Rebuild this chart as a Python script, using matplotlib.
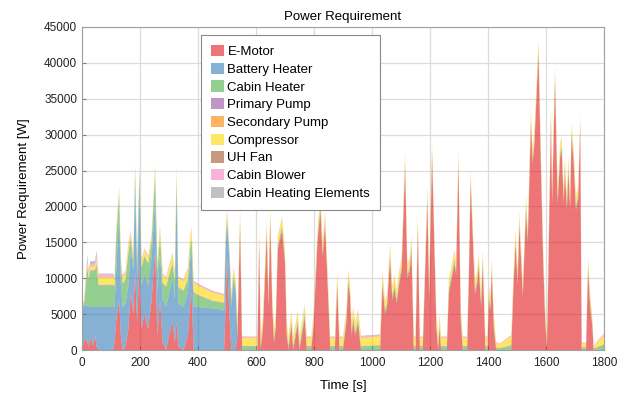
import matplotlib.pyplot as plt

# time axis [s] (breakpoints)
time = [
    0, 8, 18, 23, 28, 38, 45, 50, 57, 108,
    112, 118, 128, 134, 140, 150, 160, 168, 177, 183,
    190, 198, 205, 215, 228, 240, 252, 260, 269, 278,
    290, 300, 312, 320, 326, 332, 350, 365, 372, 378,
    385, 400, 450, 490, 495, 500, 508, 515, 522, 530,
    536, 545, 552,
    600, 605, 611, 616, 624, 637, 643, 649, 656, 662,
    668, 675, 690, 700, 706, 712, 722, 728, 744, 750,
    768, 775, 790, 798, 812, 822, 830, 838, 848, 856,
    872, 880, 888, 900, 912, 918, 924, 930, 935, 942,
    952, 962, 1028, 1036, 1045, 1052, 1062, 1070, 1078, 1085,
    1093, 1102, 1114, 1122, 1130, 1136, 1144, 1150, 1158, 1165,
    1175, 1191, 1197, 1207, 1214, 1222, 1228, 1233, 1238, 1258,
    1265, 1275, 1284, 1290, 1298, 1306, 1313, 1328, 1334, 1340,
    1347, 1355, 1362, 1368, 1376, 1382, 1391, 1398, 1403, 1408,
    1413, 1420, 1428, 1440, 1480, 1488, 1495, 1502, 1508, 1520,
    1531, 1537, 1548, 1554, 1560, 1574, 1582, 1590, 1597, 1603,
    1606, 1617, 1621, 1631, 1640, 1649, 1654, 1661, 1665, 1672,
    1677, 1683, 1688, 1695, 1703, 1711, 1718, 1723, 1738, 1745,
    1752, 1760, 1764, 1780, 1800]

e_motor = [
    0, 1500, 1200, 300, 1800, 600, 2000, 500, 0, 0,
    1000, 4000, 7000, 2000, 0, 500, 3000, 8000, 5000, 11000,
    4000, 12000, 3000, 5000, 3000, 7000, 14000, 2000, 7000, 1000,
    0, 2000, 4000, 1000, 4000, 500, 0, 2000, 6000, 8000,
    0, 0, 0, 0, 6000, 13000, 5000, 0, 0, 0,
    2000, 17500, 0,
    0, 0, 15000, 0, 3000, 16200, 6000, 18000, 6000, 1000,
    3000, 14000, 16700, 12000, 2000, 0, 3500, 0, 3500, 0,
    4500, 0, 0, 3000, 15000, 19500, 13000, 17500, 8000, 0,
    0, 9000, 0, 0, 4000, 9200, 7500, 2000, 4200, 2000,
    3700, 0, 0, 9000, 5000, 6000, 12800, 7000, 8500, 6500,
    9000, 11000, 25500, 10000, 11000, 14000, 0, 0, 17000, 0,
    0, 20800, 7000, 27000, 16000, 3000, 0, 3000, 0, 0,
    8000, 10000, 12000, 10500, 26000, 4000, 0, 0, 10000, 23200,
    16000, 7800, 9000, 11500, 6000, 12000, 0, 0, 7000, 5500,
    10900, 3000, 0, 0, 0, 9000, 14800, 9200, 17400, 7400,
    19500, 15000, 31500, 26000, 28700, 41300, 26000, 12500, 4000, 0,
    6000, 32000, 20400, 37600, 20400, 27000, 27800, 20400, 25000, 19500,
    25000, 19500, 29700, 26400, 19500, 21000, 31100, 0, 0, 11100,
    6000, 3200, 0, 0, 0]

battery_heater = [
    5500, 4700, 5000, 5800, 4200, 5400, 4000, 5500, 6000, 6000,
    5000, 7000, 12000, 7000, 6000, 6000, 6000, 6000, 6000, 12000,
    6000, 10500, 6000, 5500, 6000, 6000, 7000, 6000, 6500, 6000,
    6000, 5800, 6000, 6000, 18500, 6000, 6000, 6000, 6000, 6000,
    6000, 6000, 5800, 5600, 8000, 5000, 8000, 6000, 9500, 8000,
    0, 0, 0,
    0, 0, 0, 0, 0, 0, 0, 0, 0, 0,
    0, 0, 0, 0, 0, 0, 0, 0, 0, 0,
    0, 0, 0, 0, 0, 0, 0, 0, 0, 0,
    0, 0, 0, 0, 0, 0, 0, 0, 0, 0,
    0, 0, 0, 0, 0, 0, 0, 0, 0, 0,
    0, 0, 0, 0, 0, 0, 0, 0, 0, 0,
    0, 0, 0, 0, 0, 0, 0, 0, 0, 0,
    0, 0, 0, 0, 0, 0, 0, 0, 0, 0,
    0, 0, 0, 0, 0, 0, 0, 0, 0, 0,
    0, 0, 0, 0, 0, 0, 0, 0, 0, 0,
    0, 0, 0, 0, 0, 0, 0, 0, 0, 0,
    0, 0, 0, 0, 0, 0, 0, 0, 0, 0,
    0, 0, 0, 0, 0, 0, 0, 0, 0, 0,
    0, 0, 0, 0, 0]

cabin_heater = [
    300, 400, 5300, 3800, 5000, 5000, 5100, 5900, 3000, 3000,
    2800, 4500, 2500, 2800, 3200, 3300, 4500, 1500, 1200, 1800,
    1800, 2000, 2400, 2500, 3000, 2000, 3500, 3000, 2500, 2300,
    2800, 2500, 2000, 2500, 1500, 2200, 2200, 1800, 1800, 1500,
    2000, 1600, 1000, 900, 900, 500, 500, 800, 800, 700,
    500, 500, 500,
    500, 500, 500, 500, 500, 500, 500, 500, 500, 500,
    500, 500, 500, 500, 500, 500, 500, 500, 500, 500,
    500, 500, 500, 500, 500, 500, 500, 500, 500, 500,
    500, 500, 500, 500, 500, 500, 500, 500, 500, 500,
    500, 500, 600, 500, 500, 500, 500, 500, 500, 500,
    500, 500, 500, 500, 500, 500, 500, 500, 500, 500,
    500, 500, 500, 500, 500, 500, 500, 500, 500, 500,
    500, 500, 500, 500, 500, 500, 500, 500, 500, 500,
    500, 500, 500, 500, 500, 500, 500, 500, 500, 500,
    500, 500, 300, 200, 600, 500, 500, 500, 500, 500,
    500, 500, 500, 500, 500, 500, 500, 500, 500, 500,
    500, 500, 500, 500, 500, 500, 500, 500, 500, 500,
    500, 500, 500, 500, 500, 500, 500, 300, 300, 500,
    500, 300, 100, 400, 700]

primary_pump = [
    60, 60, 60, 60, 60, 60, 60, 60, 60, 60,
    60, 60, 60, 60, 60, 60, 60, 60, 60, 60,
    60, 60, 60, 60, 60, 60, 60, 60, 60, 60,
    60, 60, 60, 60, 60, 60, 60, 60, 60, 60,
    60, 60, 60, 60, 60, 60, 60, 60, 60, 60,
    60, 60, 60,
    50, 50, 50, 50, 50, 50, 50, 50, 50, 50,
    50, 50, 50, 50, 50, 50, 50, 50, 50, 50,
    50, 50, 50, 50, 50, 50, 50, 50, 50, 50,
    50, 50, 50, 50, 50, 50, 50, 50, 50, 50,
    50, 50, 50, 50, 50, 50, 50, 50, 50, 50,
    50, 50, 50, 50, 50, 50, 50, 50, 50, 50,
    50, 50, 50, 50, 50, 50, 50, 50, 50, 50,
    50, 50, 50, 50, 50, 50, 50, 50, 50, 50,
    50, 50, 50, 50, 50, 50, 50, 50, 50, 50,
    50, 50, 50, 50, 50, 50, 50, 50, 50, 50,
    50, 50, 50, 50, 50, 50, 50, 50, 50, 50,
    50, 50, 50, 50, 50, 50, 50, 50, 50, 50,
    50, 50, 50, 50, 50, 50, 50, 50, 50, 50,
    50, 50, 50, 50, 50]

secondary_pump = [
    60, 60, 60, 60, 60, 60, 60, 60, 60, 60,
    60, 60, 60, 60, 60, 60, 60, 60, 60, 60,
    60, 60, 60, 60, 60, 60, 60, 60, 60, 60,
    60, 60, 60, 60, 60, 60, 60, 60, 60, 60,
    60, 60, 60, 60, 60, 60, 60, 60, 60, 60,
    60, 60, 60,
    50, 50, 50, 50, 50, 50, 50, 50, 50, 50,
    50, 50, 50, 50, 50, 50, 50, 50, 50, 50,
    50, 50, 50, 50, 50, 50, 50, 50, 50, 50,
    50, 50, 50, 50, 50, 50, 50, 50, 50, 50,
    50, 50, 50, 50, 50, 50, 50, 50, 50, 50,
    50, 50, 50, 50, 50, 50, 50, 50, 50, 50,
    50, 50, 50, 50, 50, 50, 50, 50, 50, 50,
    50, 50, 50, 50, 50, 50, 50, 50, 50, 50,
    50, 50, 50, 50, 50, 50, 50, 50, 50, 50,
    50, 50, 50, 50, 50, 50, 50, 50, 50, 50,
    50, 50, 50, 50, 50, 50, 50, 50, 50, 50,
    50, 50, 50, 50, 50, 50, 50, 50, 50, 50,
    50, 50, 50, 50, 50, 50, 50, 50, 50, 50,
    50, 50, 50, 50, 50]

compressor = [
    300, 200, 600, 400, 500, 500, 500, 700, 1000, 1000,
    800, 1000, 800, 600, 700, 800, 1000, 600, 500, 700,
    700, 700, 800, 800, 800, 800, 1000, 800, 1000, 1000,
    1000, 1100, 1200, 1200, 1200, 1200, 1300, 1300, 1300, 1300,
    1300, 1300, 1100, 1000, 1000, 800, 500, 800, 800, 700,
    1000, 1100, 1100,
    1100, 1100, 1100, 1100, 1100, 1100, 1100, 1100, 1100, 1100,
    1100, 1100, 1100, 1100, 1100, 1100, 1100, 1100, 1100, 1100,
    1100, 1100, 1100, 1100, 1100, 1100, 1100, 1100, 1100, 1100,
    1100, 1100, 1100, 1100, 1100, 1100, 1100, 1100, 1100, 1100,
    1100, 1100, 1200, 1100, 1100, 1100, 1100, 1100, 1100, 1100,
    1100, 1100, 1100, 1100, 1100, 1100, 1100, 1100, 1100, 1100,
    1100, 1100, 1100, 1100, 1100, 1100, 1100, 1100, 1100, 1100,
    1100, 1100, 1100, 1100, 1100, 1100, 1100, 1100, 1100, 1100,
    1100, 1100, 1100, 1100, 1100, 1100, 1100, 1100, 1100, 1100,
    1100, 1100, 600, 500, 1200, 1100, 1100, 1100, 1100, 1100,
    1100, 1100, 1100, 1100, 1100, 1100, 1100, 1100, 1100, 1100,
    1100, 1100, 1100, 1100, 1100, 1100, 1100, 1100, 1100, 1100,
    1100, 1100, 1100, 1100, 1100, 1100, 1100, 500, 500, 1100,
    1100, 600, 200, 800, 1300]

uh_fan = [
    40, 40, 40, 40, 40, 40, 40, 40, 40, 40,
    40, 40, 40, 40, 40, 40, 40, 40, 40, 40,
    40, 40, 40, 40, 40, 40, 40, 40, 40, 40,
    40, 40, 40, 40, 40, 40, 40, 40, 40, 40,
    40, 40, 40, 40, 40, 40, 40, 40, 40, 40,
    40, 40, 40,
    30, 30, 30, 30, 30, 30, 30, 30, 30, 30,
    30, 30, 30, 30, 30, 30, 30, 30, 30, 30,
    30, 30, 30, 30, 30, 30, 30, 30, 30, 30,
    30, 30, 30, 30, 30, 30, 30, 30, 30, 30,
    30, 30, 30, 30, 30, 30, 30, 30, 30, 30,
    30, 30, 30, 30, 30, 30, 30, 30, 30, 30,
    30, 30, 30, 30, 30, 30, 30, 30, 30, 30,
    30, 30, 30, 30, 30, 30, 30, 30, 30, 30,
    30, 30, 30, 30, 30, 30, 30, 30, 30, 30,
    30, 30, 30, 30, 30, 30, 30, 30, 30, 30,
    30, 30, 30, 30, 30, 30, 30, 30, 30, 30,
    30, 30, 30, 30, 30, 30, 30, 30, 30, 30,
    30, 30, 30, 30, 30, 30, 30, 30, 30, 30,
    30, 30, 30, 30, 30]

cabin_blower = [
    100, 100, 400, 300, 300, 300, 300, 400, 400, 400,
    300, 300, 300, 300, 300, 300, 300, 300, 300, 300,
    200, 200, 200, 200, 200, 200, 200, 200, 200, 200,
    200, 200, 200, 200, 200, 200, 200, 200, 200, 200,
    200, 200, 200, 150, 150, 150, 150, 150, 150, 150,
    150, 150, 150,
    150, 150, 150, 150, 150, 150, 150, 150, 150, 150,
    150, 150, 150, 150, 150, 150, 150, 150, 150, 150,
    150, 150, 150, 150, 150, 150, 150, 150, 150, 150,
    150, 150, 150, 150, 150, 150, 150, 150, 150, 150,
    150, 150, 150, 150, 150, 150, 150, 150, 150, 150,
    150, 150, 150, 150, 150, 150, 150, 150, 150, 150,
    150, 150, 150, 150, 150, 150, 150, 150, 150, 150,
    150, 150, 150, 150, 150, 150, 150, 150, 150, 150,
    150, 150, 150, 150, 150, 150, 150, 150, 150, 150,
    150, 150, 100, 50, 150, 150, 150, 150, 150, 150,
    150, 150, 150, 150, 150, 150, 150, 150, 150, 150,
    150, 150, 150, 150, 150, 150, 150, 150, 150, 150,
    150, 150, 150, 150, 150, 150, 150, 100, 100, 150,
    150, 100, 50, 100, 150]

heating_elements = [
    0, 0, 600, 300, 400, 400, 400, 700, 100, 100,
    0, 0, 0, 0, 0, 0, 0, 0, 0, 0,
    0, 0, 0, 0, 0, 0, 0, 0, 0, 0,
    0, 0, 0, 0, 0, 0, 0, 0, 0, 0,
    0, 0, 0, 0, 0, 0, 0, 0, 0, 0,
    0, 0, 0,
    0, 0, 0, 0, 0, 0, 0, 0, 0, 0,
    0, 0, 0, 0, 0, 0, 0, 0, 0, 0,
    0, 0, 0, 0, 0, 0, 0, 0, 0, 0,
    0, 0, 0, 0, 0, 0, 0, 0, 0, 0,
    0, 100, 100, 0, 0, 0, 0, 0, 0, 0,
    0, 0, 0, 0, 0, 0, 0, 0, 0, 0,
    0, 0, 0, 0, 0, 0, 0, 0, 0, 0,
    0, 0, 0, 0, 0, 0, 0, 0, 0, 0,
    0, 0, 0, 0, 0, 0, 0, 0, 0, 0,
    0, 0, 0, 0, 0, 0, 0, 0, 0, 0,
    0, 0, 0, 0, 0, 0, 0, 0, 0, 0,
    0, 0, 0, 0, 0, 0, 0, 0, 0, 0,
    0, 0, 0, 0, 0, 0, 0, 0, 0, 0,
    0, 0, 0, 0, 0]

labels = ['E-Motor', 'Battery Heater', 'Cabin Heater', 'Primary Pump',
          'Secondary Pump', 'Compressor', 'UH Fan', 'Cabin Blower',
          'Cabin Heating Elements']
colors = ['#e41a1c', '#377eb8', '#4daf4a', '#984ea3', '#ff7f00',
          '#ffd700', '#a65628', '#f781bf', '#999999']

series = [e_motor, battery_heater, cabin_heater, primary_pump, secondary_pump,
          compressor, uh_fan, cabin_blower, heating_elements]
assert all(len(s) == len(time) for s in series)

plt.rcParams['font.family'] = ['Liberation Sans', 'DejaVu Sans']
plt.rcParams['font.size'] = 8.5

fig = plt.figure(figsize=(6.29, 3.93), dpi=100)
ax = fig.add_axes([0.1304, 0.1094, 0.8299, 0.8219])
ax.stackplot(time, *series, labels=labels, colors=colors, alpha=0.6, linewidth=0)

ax.set_xlim(0, 1800)
ax.set_ylim(0, 45000)
ax.set_xticks(range(0, 1801, 200))
ax.set_yticks(range(0, 45001, 5000))
ax.set_axisbelow(True)
ax.grid(color='#dcdcdc', linewidth=0.9)
for sp in ax.spines.values():
    sp.set_color('#a0a0a0')
ax.tick_params(direction='in', length=3, color='#808080', labelcolor='#222222')
ax.tick_params(axis='x', pad=5)

ax.set_title('Power Requirement', fontsize=9.5, pad=5)
ax.set_xlabel('Time [s]', fontsize=9.5, labelpad=8)
ax.set_ylabel('Power Requirement [W]', fontsize=9.5, labelpad=10)

leg = ax.legend(loc='upper left', bbox_to_anchor=(0.228, 0.975), fontsize=9.5,
                fancybox=False, framealpha=1, edgecolor='#888888',
                borderaxespad=0, borderpad=0.75, labelspacing=0.34,
                handlelength=1.0, handleheight=0.95, handletextpad=0.25)
leg.get_frame().set_linewidth(0.8)

fig.savefig('out.png', dpi=100)
